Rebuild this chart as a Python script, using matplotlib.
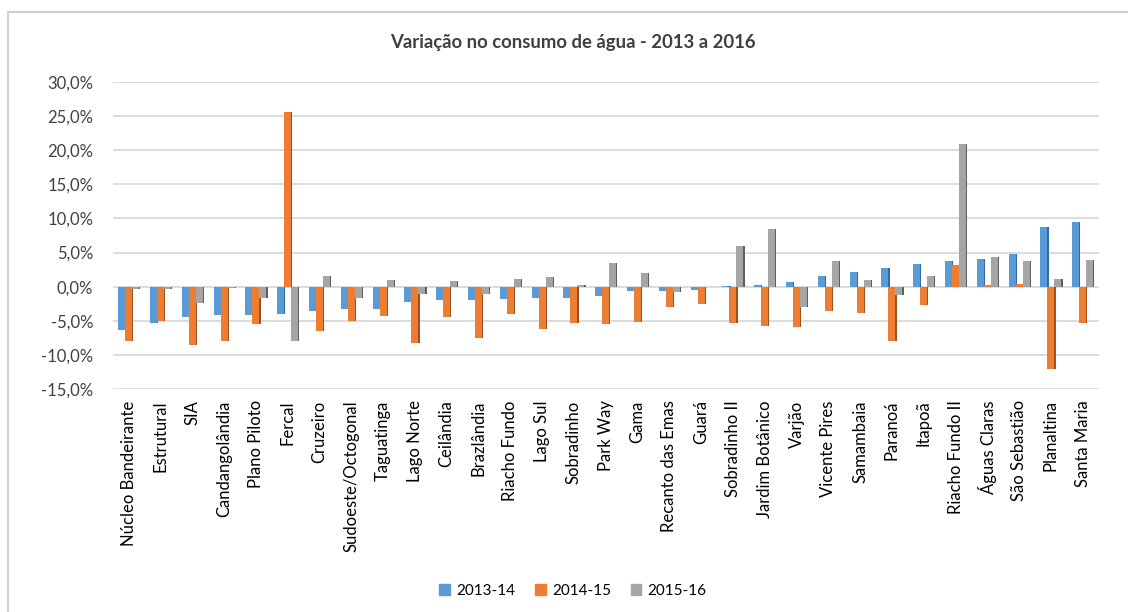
#!/usr/bin/env python
import numpy as np
import matplotlib
matplotlib.use("Agg")
import matplotlib.pyplot as plt
from matplotlib.lines import Line2D
from matplotlib.ticker import FuncFormatter

plt.rcParams['font.family'] = ['Lato', 'DejaVu Sans']

# regioes administrativas, variacao anual do consumo (%)
regioes = ["Núcleo Bandeirante", "Estrutural", "SIA", "Candangolândia", "Plano Piloto",
           "Fercal", "Cruzeiro", "Sudoeste/Octogonal", "Taguatinga", "Lago Norte",
           "Ceilândia", "Brazlândia", "Riacho Fundo", "Lago Sul", "Sobradinho",
           "Park Way", "Gama", "Recanto das Emas", "Guará", "Sobradinho II",
           "Jardim Botânico", "Varjão", "Vicente Pires", "Samambaia", "Paranoá",
           "Itapoã", "Riacho Fundo II", "Águas Claras", "São Sebastião", "Planaltina",
           "Santa Maria"]

v_2013_14 = [-6.3, -5.3, -4.4, -4.2, -4.1, -4.0, -3.6, -3.2, -3.2, -2.2,
             -2.0, -2.0, -1.8, -1.7, -1.7, -1.4, -0.6, -0.6, -0.5, 0.1,
             0.2, 0.7, 1.6, 2.1, 2.7, 3.3, 3.7, 4.1, 4.8, 8.8, 9.5]
v_2014_15 = [-8.0, -5.0, -8.5, -7.9, -5.4, 25.6, -6.5, -5.0, -4.3, -8.3,
             -4.5, -7.5, -4.0, -6.2, -5.3, -5.5, -5.2, -2.9, -2.5, -5.3,
             -5.7, -5.9, -3.5, -3.8, -7.9, -2.7, 3.2, 0.2, 0.4, -12.0, -5.3]
v_2015_16 = [-0.3, -0.3, -2.4, -0.2, -1.6, -7.9, 1.5, -1.6, 1.0, -1.1,
             0.9, -1.1, 1.2, 1.4, 0.3, 3.4, 2.0, -0.8, -0.1, 5.9,
             8.5, -3.0, 3.8, 1.0, -1.2, 1.6, 20.9, 4.4, 3.8, 1.1, 3.9]

series = [("2013-14", v_2013_14, "#5B9BD5", "#2E6DA4"),
          ("2014-15", v_2014_15, "#ED7D31", "#A0501A"),
          ("2015-16", v_2015_16, "#A5A5A5", "#5E5E5E")]

fig = plt.figure(figsize=(11.28, 6.12), dpi=100)
ax = fig.add_axes([0.100, 0.364, 0.874, 0.5025])

x = np.arange(len(regioes))
w = 0.22
for i, (nome, vals, cor, cor_lado) in enumerate(series):
    pos = x + (i - 1) * w
    # lado escuro, imita o efeito 3d do excel
    ax.bar(pos + 0.035, vals, width=w, color=cor_lado, zorder=2)
    ax.bar(pos, vals, width=w, color=cor, label=nome, zorder=3)

ax.set_ylim(-15, 30)
ax.set_yticks(np.arange(-15, 31, 5))
ax.yaxis.set_major_formatter(FuncFormatter(lambda v, p: ("%.1f%%" % v).replace(".", ",")))
ax.set_xlim(-0.5, len(regioes) - 0.5)
ax.set_xticks(x)
ax.set_xticklabels(regioes, rotation=90)
ax.grid(axis='y', color='#D9D9D9', linewidth=1.3, zorder=0)
ax.set_axisbelow(True)
for s in ax.spines.values():
    s.set_visible(False)
ax.tick_params(axis='both', length=0, labelsize=12, colors='#404040')
ax.tick_params(axis='x', pad=8, labelcolor='black')
ax.tick_params(axis='y', pad=14)

fig.text(0.508, 0.930, "Variação no consumo de água - 2013 a 2016", ha='center', va='center',
         fontsize=13.3, fontweight='bold', color='#404040')

handles = [plt.Rectangle((0, 0), 1, 1, color=c) for _, _, c, _ in series]
fig.legend(handles, [n for n, _, _, _ in series], loc='center', bbox_to_anchor=(0.508, 0.034),
           ncol=3, frameon=False, fontsize=11, handlelength=0.7, handleheight=0.7,
           handletextpad=0.4, columnspacing=1.3)

# moldura da area do grafico
fig.add_artist(Line2D([8 / 1128, 1.0], [1 - 12 / 612, 1 - 12 / 612], color='#D0D0D0', linewidth=1.5))
fig.add_artist(Line2D([8 / 1128, 8 / 1128], [0.0, 1 - 12 / 612], color='#D0D0D0', linewidth=1.5))

fig.savefig("out.png", dpi=100)
